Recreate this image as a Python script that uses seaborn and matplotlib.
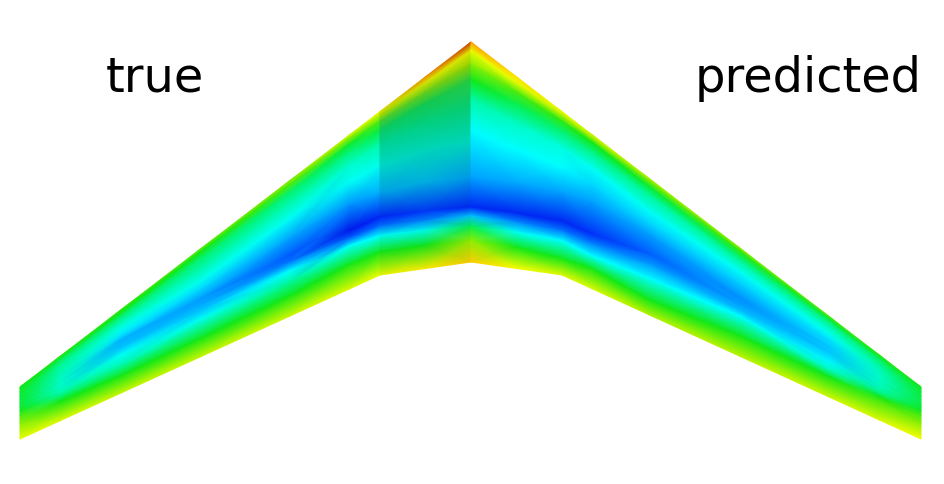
import numpy as np
import matplotlib
matplotlib.use("Agg")
import matplotlib.pyplot as plt
from matplotlib.colors import LinearSegmentedColormap
import seaborn as sns

# Planform outline
outline_x = [20, 380, 471, 562, 921]
leading_y = [388, 112.6, 43, 112.6, 388]
trailing_y = [440, 276, 263, 276, 440]

labels = ["true", "predicted"]

# Left wing ("true"): spanwise stations, chordwise fractions, field values
true_x = [20, 60, 120, 200, 290, 350, 380, 425, 471]
true_frac = [
    [0, .04, .10, .18, .25, .30, .35, .40, .45, .55, .70, 1],
    [0, .03, .08, .15, .22, .30, .40, .50, .58, .64, .70, 1],
    [0, .03, .08, .15, .22, .30, .36, .45, .54, .66, .79, 1],
    [0, .03, .09, .18, .30, .38, .46, .52, .58, .65, .83, 1],
    [0, .03, .086, .16, .28, .43, .55, .60, .665, .75, .85, 1],
    [0, .02, .06, .12, .20, .31, .46, .62, .67, .72, .84, 1],
    [0, .02, .06, .11, .20, .33, .50, .645, .70, .76, .86, 1],
    [0, .03, .08, .14, .24, .38, .55, .70, .75, .80, .88, 1],
    [0, .04, .10, .17, .30, .45, .62, .75, .79, .84, .90, 1],
]
true_val = [
    [.50, .49, .48, .47, .47, .47, .47, .48, .50, .55, .60, .72],
    [.52, .48, .42, .38, .36, .34, .33, .33, .37, .43, .50, .70],
    [.53, .50, .42, .35, .29, .24, .19, .20, .27, .35, .50, .67],
    [.56, .50, .42, .36, .28, .22, .17, .18, .21, .27, .50, .67],
    [.60, .55, .42, .36, .27, .17, .11, .14, .26, .38, .50, .68],
    [.68, .60, .48, .40, .32, .27, .16, .03, .12, .26, .50, .70],
    [.72, .66, .55, .47, .36, .28, .18, .05, .13, .26, .50, .72],
    [.85, .72, .58, .50, .40, .30, .20, .07, .15, .27, .50, .76],
    [.97, .74, .62, .52, .42, .30, .17, .05, .20, .45, .60, .80],
]

# Right wing ("predicted")
pred_x = [471, 517, 562, 592, 650, 740, 830, 880, 921]
pred_frac = [
    [0, .04, .10, .17, .26, .40, .62, .75, .79, .84, .90, 1],
    [0, .03, .08, .14, .24, .38, .55, .71, .76, .81, .89, 1],
    [0, .02, .06, .12, .22, .34, .50, .67, .73, .79, .90, 1],
    [0, .02, .05, .11, .22, .33, .44, .645, .71, .785, .87, 1],
    [0, .02, .06, .12, .24, .33, .41, .55, .63, .73, .89, 1],
    [0, .03, .08, .13, .22, .34, .46, .52, .58, .63, .81, 1],
    [0, .03, .08, .15, .22, .30, .38, .45, .55, .65, .75, 1],
    [0, .03, .08, .15, .22, .30, .40, .50, .58, .64, .70, 1],
    [0, .04, .10, .18, .25, .30, .35, .40, .45, .55, .70, 1],
]
pred_val = [
    [.85, .72, .60, .50, .36, .26, .17, .05, .20, .45, .60, .80],
    [.78, .72, .55, .45, .33, .26, .18, .05, .16, .27, .50, .74],
    [.72, .66, .52, .42, .30, .26, .17, .05, .14, .26, .50, .70],
    [.68, .62, .50, .40, .27, .22, .17, .06, .15, .26, .50, .70],
    [.64, .58, .48, .38, .27, .22, .17, .12, .17, .26, .50, .64],
    [.60, .52, .43, .36, .27, .21, .16, .17, .20, .26, .50, .66],
    [.55, .48, .40, .33, .28, .23, .21, .21, .25, .32, .50, .68],
    [.53, .48, .42, .38, .35, .33, .33, .34, .40, .50, .54, .70],
    [.50, .48, .47, .46, .46, .46, .47, .48, .50, .55, .60, .74],
]

sns.set_theme(style="white")
plt.rcParams["font.family"] = ["DejaVu Sans"]

stops = [0, .06, .12, .17, .26, .38, .50, .62, .75, .88, 1]
bright_colors = ["#0000e0", "#0030f8", "#0060ff", "#00a0ff", "#00ffff", "#00f898",
                 "#10e818", "#a0f000", "#ffff00", "#ff8000", "#c83000"]
dim_colors = ["#0000e0", "#0030f0", "#0060f0", "#0098e8", "#00d8d0", "#00d088",
              "#10c850", "#90d000", "#e8e800", "#e87800", "#c03000"]
soft_colors = ["#0000e0", "#0030f8", "#0060f8", "#00a0f8", "#00f8f0", "#00f090",
               "#10e018", "#a0e800", "#f8f400", "#f08000", "#c83000"]
bright = LinearSegmentedColormap.from_list("bright", list(zip(stops, bright_colors)))
dim = LinearSegmentedColormap.from_list("dim", list(zip(stops, dim_colors)))
soft = LinearSegmentedColormap.from_list("soft", list(zip(stops, soft_colors)))


def draw_section(ax, xs, fracs, vals, cmap):
    xs = np.asarray(xs, float)
    le = np.interp(xs, outline_x, leading_y)
    te = np.interp(xs, outline_x, trailing_y)
    fr = np.asarray(fracs).T
    X = np.tile(xs, (fr.shape[0], 1))
    Y = le + fr * (te - le)
    ax.pcolormesh(X, Y, np.asarray(vals).T, shading="gouraud",
                  cmap=cmap, vmin=0, vmax=1)


fig = plt.figure(figsize=(9.44, 4.85), dpi=100, facecolor="white")
ax = fig.add_axes([0, 0, 1, 1])
ax.set_xlim(0, 944)
ax.set_ylim(485, 0)
ax.axis("off")

draw_section(ax, true_x[:7], true_frac[:7], true_val[:7], bright)
inner_frac = np.array(true_frac[6:])
inner_val = np.array(true_val[6:])
draw_section(ax, true_x[6:], inner_frac[:, :8], inner_val[:, :8], dim)
draw_section(ax, true_x[6:], inner_frac[:, 7:], inner_val[:, 7:], soft)
draw_section(ax, pred_x, pred_frac, pred_val, bright)

ax.text(155, 91.5, labels[0], ha="center", va="baseline", fontsize=34.5, color="black")
ax.text(808, 91.5, labels[1], ha="center", va="baseline", fontsize=34.5, color="black")

fig.savefig("out.png", dpi=100, facecolor="white")
